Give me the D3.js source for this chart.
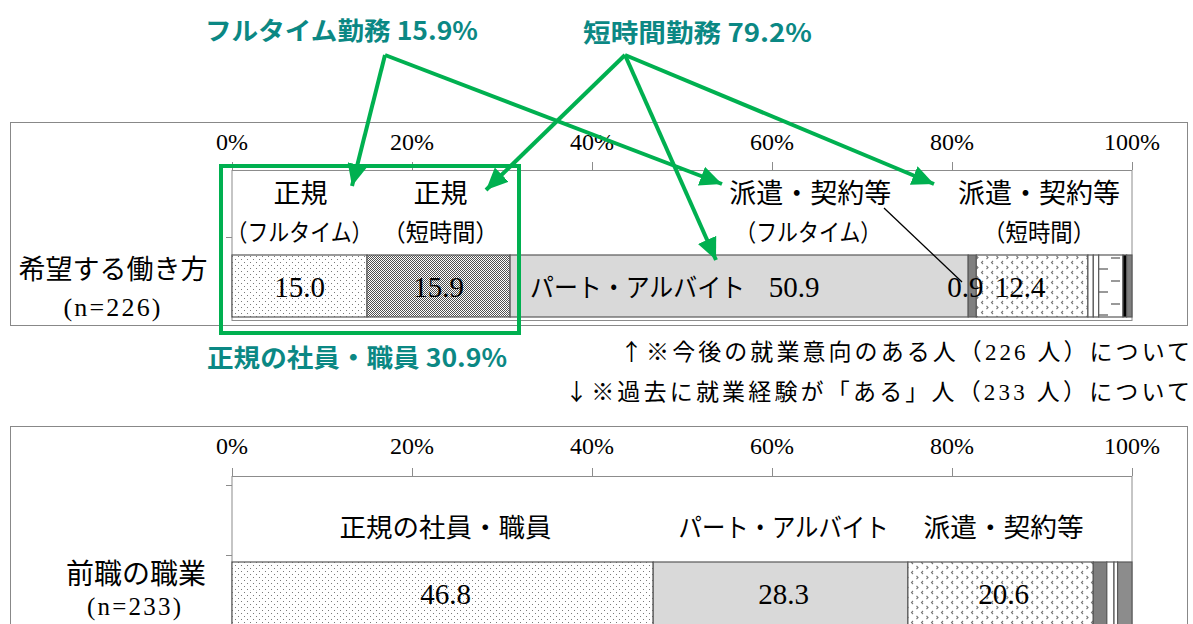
<!DOCTYPE html>
<html>
<head>
<meta charset="utf-8">
<script src="https://cdn.jsdelivr.net/npm/d3@7"></script>
<style>
  body { margin: 0; background: #fff; }
  svg { display: block; }
  text { font-family: "Liberation Serif", "Noto Sans CJK JP", serif; fill: #000; }
  .green { font-family: "Noto Sans CJK JP", "Liberation Sans", sans-serif; font-weight: bold; fill: #0b8884; }
  .cjk { font-family: "Noto Sans CJK JP", sans-serif; }
</style>
</head>
<body>
<div id="chart"></div>
<script>
// data
var tickValues = [0, 20, 40, 60, 80, 100];

var topCategories = ['正規(フルタイム)', '正規(短時間)', 'パート・アルバイト', '派遣・契約等(フルタイム)',
    '派遣・契約等(短時間)', '自営業', '家族従業者', '内職', 'その他', '無回答'];
var topValues = [15.0, 15.9, 50.9, 0.9, 12.4, 0.6, 0.6, 2.7, 0.4, 0.6];

var bottomCategories = ['正規の社員・職員', 'パート・アルバイト', '派遣・契約等', '自営業', '家族従業者', 'その他', '無回答'];
var bottomValues = [46.8, 28.3, 20.6, 1.5, 0.8, 0.4, 1.6];

var topFills = ['url(#dots)', 'url(#checker)', '#d9d9d9', '#808080', 'url(#divot)', '#fff', '#fff', 'url(#dashes)', '#000', '#7f7f7f'];
var bottomFills = ['url(#dots)', '#d9d9d9', 'url(#divot)', '#7f7f7f', '#fff', '#fff', '#8c8c8c'];

var width = 1193, height = 624;

var svg = d3.select('#chart').append('svg')
    .attr('width', width)
    .attr('height', height);

// patterns
var defs = svg.append('defs');

var p = defs.append('pattern').attr('id', 'dots').attr('patternUnits', 'userSpaceOnUse')
    .attr('width', 6).attr('height', 6);
p.append('rect').attr('width', 6).attr('height', 6).attr('fill', '#fff');
p.append('rect').attr('x', 1).attr('y', 1).attr('width', 1).attr('height', 1).attr('fill', '#7a7a7a');
p.append('rect').attr('x', 4).attr('y', 4).attr('width', 1).attr('height', 1).attr('fill', '#7a7a7a');

p = defs.append('pattern').attr('id', 'checker').attr('patternUnits', 'userSpaceOnUse')
    .attr('width', 2).attr('height', 2);
p.append('rect').attr('width', 2).attr('height', 2).attr('fill', '#fff');
p.append('rect').attr('width', 1).attr('height', 1).attr('fill', '#505050');
p.append('rect').attr('x', 1).attr('y', 1).attr('width', 1).attr('height', 1).attr('fill', '#505050');

p = defs.append('pattern').attr('id', 'divot').attr('patternUnits', 'userSpaceOnUse')
    .attr('width', 10).attr('height', 10);
p.append('rect').attr('width', 10).attr('height', 10).attr('fill', '#fff');
p.append('path').attr('d', 'M3,1 L1.5,2.5 L3,4').attr('fill', 'none').attr('stroke', '#777').attr('stroke-width', 1.1);
p.append('path').attr('d', 'M6.5,6 L8,7.5 L6.5,9').attr('fill', 'none').attr('stroke', '#777').attr('stroke-width', 1.1);

p = defs.append('pattern').attr('id', 'dashes').attr('patternUnits', 'userSpaceOnUse')
    .attr('width', 24).attr('height', 23);
p.append('rect').attr('width', 24).attr('height', 23).attr('fill', '#fff');
p.append('rect').attr('x', 7).attr('y', 4).attr('width', 9).attr('height', 2).attr('fill', '#999');
p.append('rect').attr('x', 19).attr('y', 15).attr('width', 9).attr('height', 2).attr('fill', '#999');
p.append('rect').attr('x', -5).attr('y', 15).attr('width', 9).attr('height', 2).attr('fill', '#999');

defs.append('marker').attr('id', 'arrow')
    .attr('markerUnits', 'userSpaceOnUse')
    .attr('viewBox', '0 0 22 20')
    .attr('refX', 22).attr('refY', 10)
    .attr('markerWidth', 22).attr('markerHeight', 20)
    .attr('orient', 'auto')
    .append('path').attr('d', 'M0,0 L22,10 L0,20 Z').attr('fill', '#00b050');

var x = d3.scaleLinear().domain([0, 100]).range([232, 1132]);

// small text helper
function label(g, str, tx, ty, size, opt) {
    opt = opt || {};
    var t = g.append('text')
        .attr('x', tx).attr('y', ty)
        .attr('text-anchor', opt.anchor || 'middle')
        .style('font-size', size + 'px')
        .text(str);
    if (opt.len) t.attr('textLength', opt.len).attr('lengthAdjust', opt.adjust || 'spacingAndGlyphs');
    if (opt.cls) t.attr('class', opt.cls);
    return t;
}

function stackOf(values) {
    var acc = 0;
    return values.map(function (v, i) {
        var d = {index: i, value: v, x0: acc, x1: acc + v};
        acc += v;
        return d;
    });
}

function mid(d) { return x((d.x0 + d.x1) / 2); }

function drawPanel(g, cfg) {
    // outer frame
    g.append('rect')
        .attr('x', 10.5).attr('y', cfg.boxTop + 0.5)
        .attr('width', 1177).attr('height', cfg.boxBottom - cfg.boxTop)
        .attr('fill', '#fff').attr('stroke', '#888').attr('stroke-width', 1);

    // tick labels
    g.selectAll('.tl').data(tickValues).enter().append('text')
        .attr('x', function (d) { return x(d); })
        .attr('y', cfg.boxTop + 28)
        .attr('text-anchor', 'middle')
        .style('font-size', '24px')
        .text(function (d) { return d + '%'; });

    // plot area
    g.append('rect')
        .attr('x', x(0)).attr('y', cfg.plotTop + 0.5)
        .attr('width', x(100) - x(0)).attr('height', cfg.plotBottom - cfg.plotTop)
        .attr('fill', '#fff').attr('stroke', '#8c8c8c').attr('stroke-width', 1);

    // ticks
    g.selectAll('.tk').data(tickValues).enter().append('line')
        .attr('x1', function (d) { return x(d) + 0.5; })
        .attr('x2', function (d) { return x(d) + 0.5; })
        .attr('y1', cfg.plotTop - 8).attr('y2', cfg.plotTop)
        .attr('stroke', '#8c8c8c');

    // left axis ticks
    g.selectAll('.lt').data(cfg.leftTicks).enter().append('line')
        .attr('x1', x(0) - 6).attr('x2', x(0))
        .attr('y1', function (d) { return d + 0.5; })
        .attr('y2', function (d) { return d + 0.5; })
        .attr('stroke', '#8c8c8c');

    var stack = stackOf(cfg.values);
    g.selectAll('.seg').data(stack).enter().append('rect')
        .attr('x', function (d) { return x(d.x0); })
        .attr('width', function (d) { return x(d.x1) - x(d.x0); })
        .attr('y', cfg.barTop)
        .attr('height', cfg.barHeight)
        .attr('fill', function (d) { return cfg.fills[d.index]; })
        .attr('stroke', '#595959')
        .attr('stroke-width', 1.2);

    return stack;
}

// ---------- top panel ----------
var topG = svg.append('g');
var topStack = drawPanel(topG, {
    boxTop: 122, boxBottom: 325, plotTop: 170, plotBottom: 320,
    leftTicks: [237], barTop: 255, barHeight: 62,
    values: topValues, fills: topFills
});

// category labels above the bar
label(topG, '正規', mid(topStack[0]) + 1, 203, 27);
label(topG, '（フルタイム）', mid(topStack[0]), 241, 24, {len: 146});
label(topG, '正規', mid(topStack[1]) + 2, 203, 27);
label(topG, '（短時間）', mid(topStack[1]) + 2, 241, 24, {len: 116});
label(topG, '派遣・契約等', mid(topStack[3]) - 162, 203, 27);
label(topG, '（フルタイム）', mid(topStack[3]) - 164, 241, 24, {len: 146});
label(topG, '派遣・契約等', mid(topStack[4]) + 7, 203, 27);
label(topG, '（短時間）', mid(topStack[4]) + 7, 241, 24, {len: 112});

// value labels
label(topG, topValues[0].toFixed(1), mid(topStack[0]), 297, 29);
label(topG, topValues[1].toFixed(1), mid(topStack[1]), 297, 29);
label(topG, 'パート・アルバイト', 530, 297, 26, {anchor: 'start', len: 215});
label(topG, topValues[2].toFixed(1), mid(topStack[2]) + 55, 297, 29);
label(topG, topValues[3].toFixed(1), mid(topStack[3]) - 7, 297, 29);
label(topG, topValues[4].toFixed(1), mid(topStack[4]) - 12, 297, 29);

// leader line
topG.append('line')
    .attr('x1', 884).attr('y1', 208)
    .attr('x2', 962).attr('y2', 282)
    .attr('stroke', '#000').attr('stroke-width', 1.3);

// row label
label(topG, '希望する働き方', 113, 279, 27);
label(topG, '(n=226)', 112, 316, 26, {len: 97, adjust: 'spacing'});

// ---------- notes ----------
var n1 = svg.append('text').attr('x', 1190).attr('y', 360).attr('text-anchor', 'end')
    .attr('textLength', 570).attr('lengthAdjust', 'spacing')
    .style('font-size', '23px');
n1.append('tspan').attr('class', 'cjk').text('↑※');
n1.append('tspan').text('今後の就業意向のある人（226 人）について');
var n2 = svg.append('text').attr('x', 1190).attr('y', 400).attr('text-anchor', 'end')
    .attr('textLength', 625).attr('lengthAdjust', 'spacing')
    .style('font-size', '23px');
n2.append('tspan').attr('class', 'cjk').text('↓※');
n2.append('tspan').text('過去に就業経験が「ある」人（233 人）について');

// ---------- bottom panel ----------
var bottomG = svg.append('g');
var bottomStack = drawPanel(bottomG, {
    boxTop: 426, boxBottom: 700, plotTop: 476, plotBottom: 700,
    leftTicks: [485, 555], barTop: 562, barHeight: 80,
    values: bottomValues, fills: bottomFills
});

var bottomLens = [212, 210, 160];
[0, 1, 2].forEach(function (i) {
    var d = bottomStack[i];
    label(bottomG, bottomCategories[i], mid(d) + 3, 537, 26, {len: bottomLens[i]});
    label(bottomG, bottomValues[i].toFixed(1), mid(d) + 3, 604, 29);
});

label(bottomG, '前職の職業', 136, 584, 28);
label(bottomG, '(n=233)', 134, 615, 25, {len: 94, adjust: 'spacing'});

// ---------- green annotations ----------
var ann = svg.append('g');

ann.append('rect')
    .attr('x', 221).attr('y', 166)
    .attr('width', 298).attr('height', 167)
    .attr('fill', 'none').attr('stroke', '#00b050').attr('stroke-width', 4);

var arrows = [
    [385, 55, 352, 186],
    [385, 55, 722, 184],
    [625, 55, 486, 190],
    [625, 55, 716, 260],
    [625, 55, 934, 184]
];
ann.selectAll('.arr').data(arrows).enter().append('line')
    .attr('x1', function (d) { return d[0]; })
    .attr('y1', function (d) { return d[1]; })
    .attr('x2', function (d) { return d[2]; })
    .attr('y2', function (d) { return d[3]; })
    .attr('stroke', '#00b050')
    .attr('stroke-width', 4)
    .attr('marker-end', 'url(#arrow)');

label(ann, 'フルタイム勤務 15.9%', 205, 40, 25, {anchor: 'start', len: 273, cls: 'green'});
label(ann, '短時間勤務 79.2%', 583, 42, 25, {anchor: 'start', len: 229, cls: 'green'});
label(ann, '正規の社員・職員 30.9%', 207, 367, 25, {anchor: 'start', len: 300, cls: 'green'});
</script>
</body>
</html>
